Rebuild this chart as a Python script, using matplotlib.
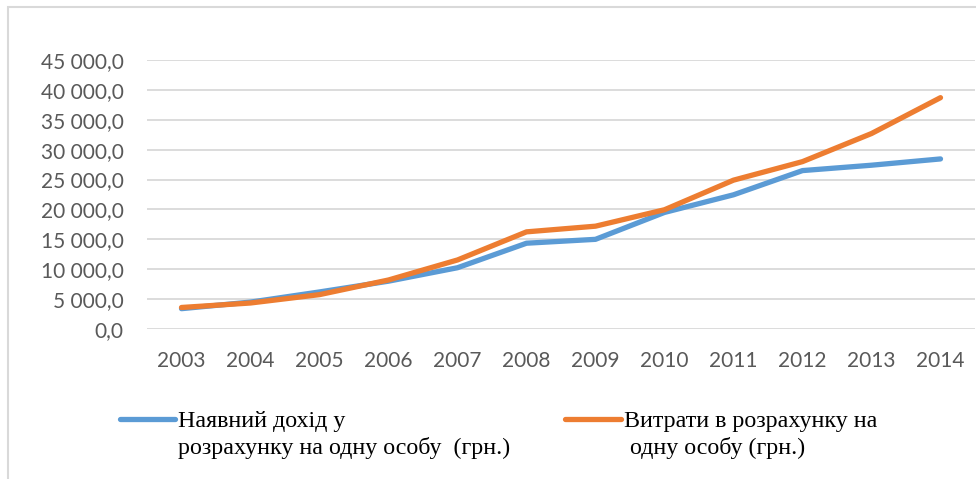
import matplotlib
matplotlib.use("Agg")
import matplotlib.pyplot as plt
from matplotlib.lines import Line2D
from matplotlib.patches import Rectangle
from matplotlib.ticker import FuncFormatter

# Дані (оцінка з графіка)
years = ['2003', '2004', '2005', '2006', '2007', '2008',
         '2009', '2010', '2011', '2012', '2013', '2014']
dohid = [3400, 4500, 6200, 8000, 10250, 14350,
         15000, 19500, 22450, 26500, 27400, 28450]
vytraty = [3600, 4350, 5750, 8200, 11550, 16250,
           17200, 19950, 24900, 28000, 32700, 38700]

label_dohid = 'Наявний дохід у\nрозрахунку на одну особу  (грн.)'
label_vytraty = 'Витрати в розрахунку на\n одну особу (грн.)'

Blue = '#5B9BD5'
Orange = '#ED7D31'
Grid = '#D9D9D9'
Txt = '#595959'

W, H = 976, 479
fig = plt.figure(figsize=(W / 100, H / 100), dpi=100)
ax = fig.add_axes([147 / W, 1 - 329 / H, (975 - 147) / W, (329 - 60) / H])

x = list(range(len(years)))
ax.plot(x, dohid, color=Blue, lw=3.8, solid_capstyle='round')
ax.plot(x, vytraty, color=Orange, lw=3.8, solid_capstyle='round')

ax.set_xlim(-0.5, len(years) - 0.5)
ax.set_ylim(0, 45000)
ax.set_yticks(range(0, 45001, 5000))
ax.yaxis.set_major_formatter(FuncFormatter(lambda v, p: f'{int(v):,}'.replace(',', ' ') + ',0'))
ax.set_xticks(x)
ax.set_xticklabels(years)

for s in ax.spines.values():
    s.set_visible(False)
ax.grid(axis='y', color=Grid, lw=1.3)
ax.set_axisbelow(True)
ax.tick_params(length=0, colors=Txt, labelsize=15)
ax.tick_params(axis='x', pad=16)
ax.tick_params(axis='y', pad=17)
for lab in ax.get_xticklabels() + ax.get_yticklabels():
    lab.set_fontfamily('Lato')

# рамка
fig.add_artist(Rectangle((8 / W, -0.2), 1.2, 1.2 - 7 / H,
                         transform=fig.transFigure, fill=False,
                         edgecolor=Grid, lw=1.5))

# легенда
fig.add_artist(Line2D([120 / W, 175 / W], [1 - 419 / H] * 2, color=Blue,
                      lw=3.8, solid_capstyle='round'))
fig.add_artist(Line2D([565 / W, 621 / W], [1 - 419 / H] * 2, color=Orange,
                      lw=3.8, solid_capstyle='round'))
fig.text(178 / W, 1 - 411 / H, label_dohid, family='Liberation Serif',
         fontsize=17.3, va='top', ha='left', linespacing=1.3)
fig.text(624 / W, 1 - 411 / H, label_vytraty, family='Liberation Serif',
         fontsize=17.3, va='top', ha='left', linespacing=1.3)

fig.savefig('out.png', dpi=100)
